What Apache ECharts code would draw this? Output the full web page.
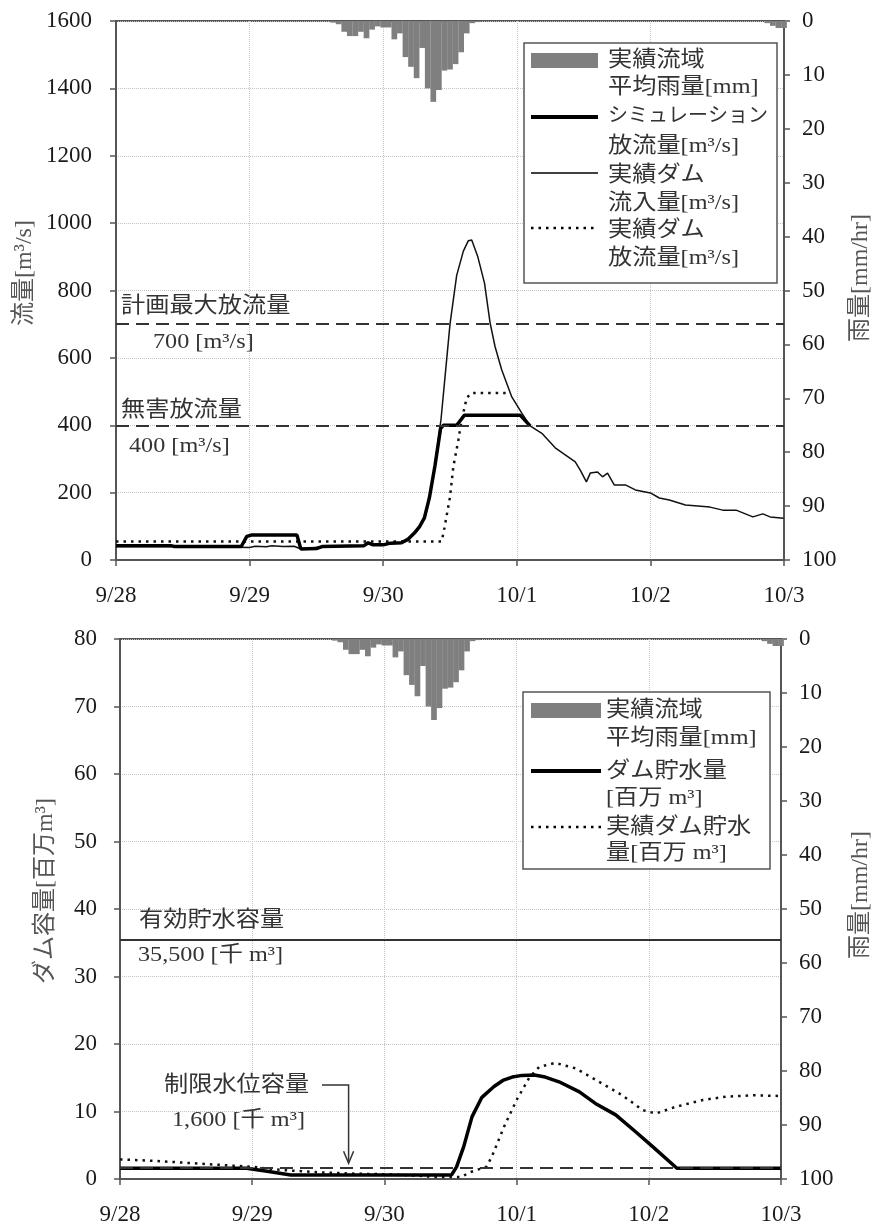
<!DOCTYPE html>
<html>
<head>
<meta charset="utf-8">
<script src="https://cdn.jsdelivr.net/npm/echarts@6/dist/echarts.min.js"></script>
<style>
  html, body { margin: 0; padding: 0; background: #fff; }
  #chart { width: 876px; height: 1227px; }
</style>
</head>
<body>
<div id="chart"></div>
<script>
// x values are hours counted from 9/28 0:00
const dayLabels = ['9/28', '9/29', '9/30', '10/1', '10/2', '10/3'];

// hourly basin-average rainfall [mm]
const rainHours = [39, 40, 41, 42, 43, 44, 45, 46, 47, 48, 49, 50, 51, 52, 53, 54, 55, 56, 57, 58, 59, 60, 61, 62, 63, 64, 65, 117, 118, 119, 120];
const rainMm    = [0.3, 0.6, 2.0, 2.8, 2.8, 2.0, 3.2, 1.6, 1.0, 1.2, 1.2, 3.4, 2.3, 6.7, 8.5, 10.6, 5.0, 12.5, 15.0, 12.8, 9.2, 9.0, 8.0, 5.8, 2.3, 0.4, 0.2, 0.4, 0.9, 1.3, 1.3];

// simulated release [m3/s]
const simHours = [0, 10, 10.5, 22.5, 23.5, 24.3, 32.5, 33.2, 36, 37, 44.5, 45.3, 46.2, 48, 49.3, 51.3, 52.5, 53.6, 54.5, 55.4, 56.3, 57.3, 58.3, 58.8, 61.2, 62.6, 72.6, 74.4];
const simFlow  = [42, 42, 40, 40, 70, 74, 74, 33, 34, 40, 42, 51, 45, 45, 50, 51, 62, 80, 98, 125, 185, 280, 390, 400, 400, 430, 430, 398];

// observed inflow [m3/s]
const inflowHours = [0, 10, 22, 24, 25, 27, 28, 30, 32, 33, 35, 37, 44.5, 45.3, 46.2, 48, 49.3, 51.3, 52.5, 53.6, 54.5, 55.4, 56.3, 57.3, 58.4, 59.2, 60, 61.2, 62.4, 63.3, 63.9, 65, 66.2, 67.2, 68.1, 69.3, 71.1, 72.9, 74.4, 76.5, 78.9, 80.7, 82.5, 83.4, 84.5, 85.2, 86.5, 87.4, 88.3, 89.5, 91.5, 93.3, 96, 97.6, 99.4, 102.3, 106.7, 109, 111.4, 114.4, 116.2, 117.5, 119.9];
const inflowFlow  = [40, 40, 38, 37, 41, 39, 42, 40, 41, 34, 34, 40, 42, 50, 44, 45, 49, 50, 60, 78, 96, 125, 185, 280, 420, 560, 700, 845, 917, 948, 950, 900, 822, 704, 633, 564, 484, 436, 398, 376, 333, 312, 291, 267, 232, 258, 261, 247, 258, 223, 223, 208, 199, 184, 178, 163, 157, 148, 148, 128, 137, 128, 124];

// observed release [m3/s]
const releaseHours = [0, 58.5, 59, 60, 60.6, 61.5, 62.1, 63, 63.9, 70.5];
const releaseFlow  = [55, 55, 95, 187, 277, 356, 416, 481, 496, 496];

// reference discharges [m3/s]
const floodLevels = [700, 400];

// simulated storage [million m3]
const storageHours = [0, 23, 27, 31, 60.2, 61.1, 62.4, 63.9, 65.7, 67.9, 69.5, 71.2, 73, 75.2, 77.2, 79.7, 83.4, 86.3, 90, 93.6, 96.7, 101.1, 120];
const storageSim   = [1.6, 1.6, 1.1, 0.6, 0.6, 1.8, 4.8, 9.2, 12.1, 13.7, 14.6, 15.1, 15.35, 15.4, 15.1, 14.4, 12.9, 11.2, 9.5, 7.0, 4.8, 1.6, 1.6];

// observed storage [million m3]
const storageObsHours = [0, 6, 12, 18, 24, 30, 36, 42, 48, 54, 57, 62, 63.5, 66.5, 67.5, 69.7, 72, 74.3, 76.1, 79, 82.7, 87, 91.2, 94.9, 97.3, 100.9, 105.8, 110, 115, 120];
const storageObs      = [2.9, 2.7, 2.4, 2.1, 1.8, 1.3, 1.0, 0.8, 0.7, 0.5, 0.3, 0.3, 1.0, 1.8, 3.3, 7.7, 11.7, 15.0, 16.6, 17.2, 16.4, 14.4, 12.4, 10.2, 9.7, 10.7, 11.7, 12.2, 12.4, 12.3];

// capacities [million m3]: effective storage, restricted-level storage
const effectiveCapacity = 35.5;
const restrictedCapacity = 1.6;

const SERIF = "'Liberation Serif', 'Noto Sans CJK JP', serif";
const AXIS_GREY = '#555';
const GRID_GREY = '#c4c4c4';
const zip = (xs, ys) => xs.map((x, i) => [x, ys[i]]);
const rainData = zip(rainHours, rainMm);

function timeAxis(gridIndex) {
  return {
    type: 'value', gridIndex, min: 0, max: 120, interval: 24,
    axisLine: { show: true, onZero: false, lineStyle: { color: AXIS_GREY, width: 2 } },
    axisTick: { show: true, length: 6, lineStyle: { color: AXIS_GREY, width: 1.5 } },
    axisLabel: { margin: 24, fontFamily: SERIF, fontSize: 23, color: '#1a1a1a',
      formatter: v => dayLabels[Math.round(v / 24)] },
    splitLine: { show: true, lineStyle: { color: GRID_GREY, type: 'dotted', width: 1 } }
  };
}
function leftAxis(gridIndex, max, interval, margin) {
  return {
    type: 'value', gridIndex, position: 'left', min: 0, max, interval,
    axisLine: { show: true, onZero: false, lineStyle: { color: AXIS_GREY, width: 2 } },
    axisTick: { show: true, length: 6, lineStyle: { color: AXIS_GREY, width: 1.5 } },
    axisLabel: { margin, fontFamily: SERIF, fontSize: 23, color: '#1a1a1a', formatter: v => String(v) },
    splitLine: { show: true, lineStyle: { color: GRID_GREY, type: 'dotted', width: 1 } }
  };
}
function rainAxis(gridIndex) {
  return {
    type: 'value', gridIndex, position: 'right', min: 0, max: 100, interval: 10, inverse: true,
    axisLine: { show: true, onZero: false, lineStyle: { color: AXIS_GREY, width: 2 } },
    axisTick: { show: true, length: 6, lineStyle: { color: AXIS_GREY, width: 1.5 } },
    axisLabel: { margin: 18, fontFamily: SERIF, fontSize: 23, color: '#1a1a1a', formatter: v => String(v) },
    splitLine: { show: false }
  };
}
const rainSeries = (xi, yi) => ({
  type: 'bar', xAxisIndex: xi, yAxisIndex: yi, data: rainData,
  barWidth: 5.7, itemStyle: { color: '#7f7f7f' }, z: 1, silent: true
});
const line = (xi, yi, data, style) => ({
  type: 'line', xAxisIndex: xi, yAxisIndex: yi, data,
  showSymbol: false, symbol: 'none', lineStyle: style, z: 3, silent: true
});
const dashed = [13, 7];
const dotted = [2.5, 5];

const chart = echarts.init(document.getElementById('chart'), null, { renderer: 'canvas' });

chart.setOption({
  animation: false,
  backgroundColor: '#fff',
  grid: [
    { left: 116, top: 21, width: 668, height: 539, show: true, borderColor: AXIS_GREY, borderWidth: 2, backgroundColor: 'transparent' },
    { left: 120, top: 639, width: 661, height: 540, show: true, borderColor: AXIS_GREY, borderWidth: 2, backgroundColor: 'transparent' }
  ],
  xAxis: [timeAxis(0), timeAxis(1)],
  yAxis: [leftAxis(0, 1600, 200, 24), rainAxis(0), leftAxis(1, 80, 10, 23), rainAxis(1)],
  series: [
    rainSeries(0, 1),
    line(0, 0, zip(releaseHours, releaseFlow), { color: '#111', width: 2.5, type: dotted }),
    line(0, 0, zip(inflowHours, inflowFlow), { color: '#111', width: 1.5 }),
    Object.assign(line(0, 0, zip(simHours, simFlow), { color: '#000', width: 3.5 }), {
      markLine: {
        silent: true, symbol: ['none', 'none'], label: { show: false },
        lineStyle: { color: '#333', width: 2, type: dashed },
        data: floodLevels.map(v => ({ yAxis: v }))
      }
    }),
    rainSeries(1, 3),
    line(1, 2, zip(storageObsHours, storageObs), { color: '#111', width: 2.5, type: dotted }),
    Object.assign(line(1, 2, zip(storageHours, storageSim), { color: '#000', width: 3.5 }), {
      markLine: {
        silent: true, symbol: ['none', 'none'], label: { show: false },
        data: [
          { yAxis: effectiveCapacity, lineStyle: { color: '#333', width: 2, type: 'solid' } },
          { yAxis: restrictedCapacity, lineStyle: { color: '#333', width: 2, type: dashed } }
        ]
      }
    })
  ]
});

// annotations, axis titles and legends
const yTop = v => chart.convertToPixel({ yAxisIndex: 0 }, v);
const yBot = v => chart.convertToPixel({ yAxisIndex: 2 }, v);
const xBot = v => chart.convertToPixel({ xAxisIndex: 1 }, v);

// text drawn slightly wide, like the serif typeface of the figure
const txt = (text, x, y, opts = {}) => ({
  type: 'text', x, y, z: 120, rotation: opts.rotation || 0, silent: true,
  scaleX: opts.scaleX || 1,
  style: {
    text, fontFamily: SERIF, fontSize: opts.size || 22,
    fill: opts.color || '#333', align: opts.align || 'left', verticalAlign: 'middle'
  }
});
const wide = { scaleX: 1.1 };

const graphics = [];

// axis titles
const titleOpts = { rotation: Math.PI / 2, align: 'center', color: '#555', size: 24 };
graphics.push(txt('流量[m³/s]', 25, 273, titleOpts));
graphics.push(txt('雨量[mm/hr]', 861, 278, titleOpts));
graphics.push(txt('ダム容量[百万m³]', 46, 891, titleOpts));
graphics.push(txt('雨量[mm/hr]', 861, 895, titleOpts));

// discharge reference labels
const y700 = yTop(floodLevels[0]);
const y400 = yTop(floodLevels[1]);
graphics.push(txt('計画最大放流量', 121, y700 - 18, wide));
graphics.push(txt(floodLevels[0] + ' [m³/s]', 153, y700 + 18, wide));
graphics.push(txt('無害放流量', 121, y400 - 15, wide));
graphics.push(txt(floodLevels[1] + ' [m³/s]', 129, y400 + 21, wide));

// storage reference labels
const yEff = yBot(effectiveCapacity);
const yRes = yBot(restrictedCapacity);
graphics.push(txt('有効貯水容量', 139, yEff - 19, wide));
graphics.push(txt('35,500 [千 m³]', 138, yEff + 16, wide));
graphics.push(txt('制限水位容量', 164, 1085, wide));
graphics.push(txt('1,600 [千 m³]', 172, 1120, wide));
const arrowX = xBot(41.5);
graphics.push({
  type: 'polyline', z: 120, silent: true,
  shape: { points: [[322, 1085], [arrowX, 1085], [arrowX, yRes - 6]] },
  style: { stroke: '#333', lineWidth: 1.5, fill: null }
});
graphics.push({
  type: 'polyline', z: 120, silent: true,
  shape: { points: [[arrowX - 5, yRes - 17], [arrowX, yRes - 5], [arrowX + 5, yRes - 17]] },
  style: { stroke: '#333', lineWidth: 1.5, fill: null }
});

// legend boxes
function legendBox(x, y, w, h) {
  return { type: 'rect', z: 110, silent: true, shape: { x, y, width: w, height: h },
    style: { fill: '#fff', stroke: '#555', lineWidth: 1.5 } };
}
function swatchBar(x, y, w) {
  return { type: 'rect', z: 115, silent: true, shape: { x, y: y - 7, width: w, height: 15 },
    style: { fill: '#7f7f7f' } };
}
function swatchLine(x, y, w, width, dash) {
  return { type: 'line', z: 115, silent: true, shape: { x1: x, y1: y, x2: x + w, y2: y },
    style: { stroke: '#000', lineWidth: width, lineDash: dash || null } };
}

graphics.push(legendBox(524, 43, 253, 240));
graphics.push(swatchBar(531, 60, 67));
graphics.push(swatchLine(531, 117, 67, 4));
graphics.push(swatchLine(531, 173, 67, 1.5));
graphics.push(swatchLine(531, 228, 67, 2.5, dotted));
[['実績流域', 60], ['平均雨量[mm]', 87], ['放流量[m³/s]', 146],
 ['実績ダム', 175], ['流入量[m³/s]', 203], ['実績ダム', 230], ['放流量[m³/s]', 258]]
  .forEach(([t, y]) => graphics.push(txt(t, 608, y, wide)));
graphics.push(txt('シミュレーション', 608, 117, { size: 20 }));

graphics.push(legendBox(523, 692, 247, 177));
graphics.push(swatchBar(531, 710, 70));
graphics.push(swatchLine(531, 771, 70, 4));
graphics.push(swatchLine(531, 827, 70, 2.5, dotted));
[['実績流域', 710], ['平均雨量[mm]', 738], ['ダム貯水量', 771], ['[百万 m³]', 798],
 ['実績ダム貯水', 827], ['量[百万 m³]', 853]]
  .forEach(([t, y]) => graphics.push(txt(t, 606, y, wide)));

chart.setOption({ graphic: graphics });
</script>
</body>
</html>
